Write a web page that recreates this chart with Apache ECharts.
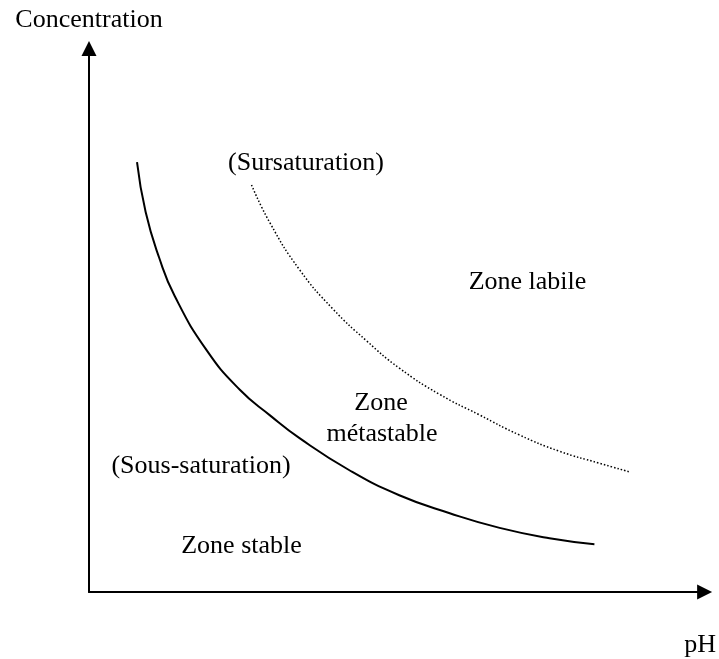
<!DOCTYPE html>
<html>
<head>
<meta charset="utf-8">
<title>Zones de saturation</title>
<script src="https://cdn.jsdelivr.net/npm/echarts@6/dist/echarts.min.js"></script>
<style>
  html, body { margin: 0; padding: 0; background: #fff; }
  #chart { width: 719px; height: 659px; }
</style>
</head>
<body>
<div id="chart"></div>
<script>
// courbe de solubilite (trait plein) : [pH, concentration] en unites arbitraires
const solubilite = [
  [0.78, 7.91], [0.92, 6.99], [1.14, 6.15], [1.39, 5.45], [1.91, 4.45],
  [2.45, 3.72], [2.94, 3.25], [3.42, 2.83], [4.23, 2.24], [5.04, 1.78],
  [5.86, 1.45], [6.67, 1.18], [7.48, 0.99], [8.21, 0.88]
];
// limite de sursaturation (pointilles)
const sursaturation = [
  [2.64, 7.49], [2.94, 6.79], [3.42, 5.93], [3.96, 5.21], [4.51, 4.62],
  [5.04, 4.12], [5.69, 3.64], [6.34, 3.26], [6.99, 2.89], [7.64, 2.59],
  [8.29, 2.37], [8.78, 2.21]
];
const axisNames = ['pH', 'Concentration'];

const font = '"Liberation Serif", "Times New Roman", serif';
const fs = 26;

const chart = echarts.init(document.getElementById('chart'));

function label(text, x, y) {
  return {
    type: 'text',
    x: x,
    y: y,
    style: {
      text: text,
      font: fs + 'px ' + font,
      fill: '#000',
      textAlign: 'center',
      textVerticalAlign: 'middle'
    }
  };
}

const option = {
  backgroundColor: '#fff',
  animation: false,
  grid: { left: 89, top: 48.5, right: 13.5, bottom: 67 },
  xAxis: {
    type: 'value',
    min: 0,
    max: 10,
    name: axisNames[0],
    nameLocation: 'end',
    nameGap: -4.5,
    nameTextStyle: {
      fontFamily: font, fontSize: fs, color: '#000',
      align: 'center', verticalAlign: 'top', padding: [40, 0, 0, 0]
    },
    axisLine: {
      onZero: false,
      symbol: ['none', 'triangle'],
      symbolSize: [15, 15],
      lineStyle: { color: '#000', width: 2 }
    },
    axisTick: { show: false },
    axisLabel: { show: false },
    splitLine: { show: false }
  },
  yAxis: {
    type: 'value',
    min: 0,
    max: 10,
    name: axisNames[1],
    nameLocation: 'end',
    nameGap: 15,
    nameTextStyle: { fontFamily: font, fontSize: fs, color: '#000' },
    axisLine: {
      show: true,
      onZero: false,
      symbol: ['none', 'triangle'],
      symbolSize: [15, 15],
      lineStyle: { color: '#000', width: 2 }
    },
    axisTick: { show: false },
    axisLabel: { show: false },
    splitLine: { show: false }
  },
  series: [
    {
      type: 'line',
      data: solubilite,
      smooth: 0.5,
      showSymbol: false,
      lineStyle: { color: '#000', width: 2 }
    },
    {
      type: 'line',
      data: sursaturation,
      smooth: 0.5,
      showSymbol: false,
      lineStyle: { color: '#000', width: 1.5, type: [1.5, 2] }
    }
  ],
  graphic: [
    label('(Sursaturation)', 306, 163),
    label('Zone labile', 527.5, 282),
    label('Zone', 381, 403),
    label('métastable', 382, 434),
    label('(Sous-saturation)', 201, 466),
    label('Zone stable', 241.5, 546)
  ]
};

chart.setOption(option);
</script>
</body>
</html>
